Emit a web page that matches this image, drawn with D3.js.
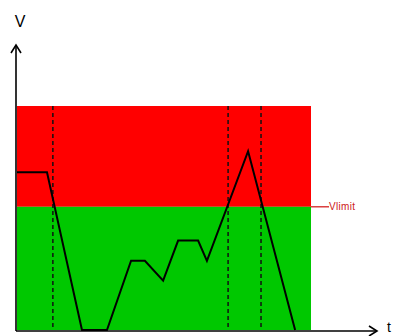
<!DOCTYPE html>
<html><head><meta charset="utf-8">
<script src="https://cdn.jsdelivr.net/npm/d3@7"></script>
<style>html,body{margin:0;padding:0;background:#fff;}svg{display:block;}</style>
</head><body>
<svg id="c" width="395" height="336"></svg>
<script>
// Data (time units, voltage units)
const timeDomain = [0, 10];
const voltDomain = [0, 10];
const vLimit = 5.5;
const vMax = 10;
const signalT = [0, 1.02, 2.21, 3.06, 3.88, 4.35, 4.97, 5.48, 6.16, 6.46, 7.86, 9.46];
const signalV = [7.04, 7.04, 0, 0, 3.09, 3.09, 2.2, 3.99, 3.99, 3.09, 7.98, 0];
const crossingT = [1.22, 7.18, 8.3];
const labels = {y: "V", x: "t", limit: "Vlimit"};

const svg = d3.select("#c");
const x = d3.scaleLinear().domain(timeDomain).range([17, 311]);
const y = d3.scaleLinear().domain(voltDomain).range([330, 106]);

// zones
svg.append("rect").attr("x", x(0)).attr("y", y(vMax))
  .attr("width", x(10) - x(0)).attr("height", y(vLimit) - y(vMax)).attr("fill", "#ff0000");
svg.append("rect").attr("x", x(0)).attr("y", y(vLimit))
  .attr("width", x(10) - x(0)).attr("height", y(0) - y(vLimit)).attr("fill", "#00c800");

// dashed crossing lines
svg.selectAll("line.dash").data(crossingT).join("line").attr("class", "dash")
  .attr("x1", d => x(d)).attr("x2", d => x(d))
  .attr("y1", y(vMax)).attr("y2", y(0))
  .attr("stroke", "#111").attr("stroke-width", 1.5).attr("stroke-dasharray", "4,3");

// Vlimit marker
svg.append("line").attr("x1", x(10)).attr("x2", x(10) + 18)
  .attr("y1", y(vLimit)).attr("y2", y(vLimit)).attr("stroke", "#d42020").attr("stroke-width", 1.3);
svg.append("text").attr("x", x(10) + 18).attr("y", y(vLimit) + 3.5)
  .attr("font-family", "Liberation Sans, Arial, sans-serif").attr("font-size", 10)
  .attr("fill", "#cc1818").attr("textLength", 26).text(labels.limit);

// signal
const pts = signalT.map((t, i) => [t, signalV[i]]);
svg.append("path").datum(pts)
  .attr("d", d3.line().x(d => x(d[0])).y(d => y(d[1])))
  .attr("fill", "none").attr("stroke", "#000").attr("stroke-width", 2).attr("stroke-linejoin", "miter");

// axes
const ax = svg.append("g").attr("stroke", "#000").attr("stroke-width", 1.6).attr("fill", "none");
ax.append("line").attr("x1", x(0) - 1).attr("x2", x(0) - 1).attr("y1", y(0) + 1).attr("y2", 45);
ax.append("path").attr("d", `M${x(0) - 6},${53} L${x(0) - 1},${45} L${x(0) + 4},${53}`);
ax.append("line").attr("x1", x(0) - 1).attr("x2", 377).attr("y1", y(0) + 1).attr("y2", y(0) + 1);
ax.append("path").attr("d", `M369,${y(0) - 4} L377,${y(0) + 1} L369,${y(0) + 6}`);

svg.append("text").attr("x", 20).attr("y", 27).attr("text-anchor", "middle")
  .attr("font-family", "Liberation Sans, Arial, sans-serif").attr("font-size", 16).text(labels.y);
svg.append("text").attr("x", 387).attr("y", 332)
  .attr("font-family", "Liberation Sans, Arial, sans-serif").attr("font-size", 14).text(labels.x);
</script>
</body></html>
